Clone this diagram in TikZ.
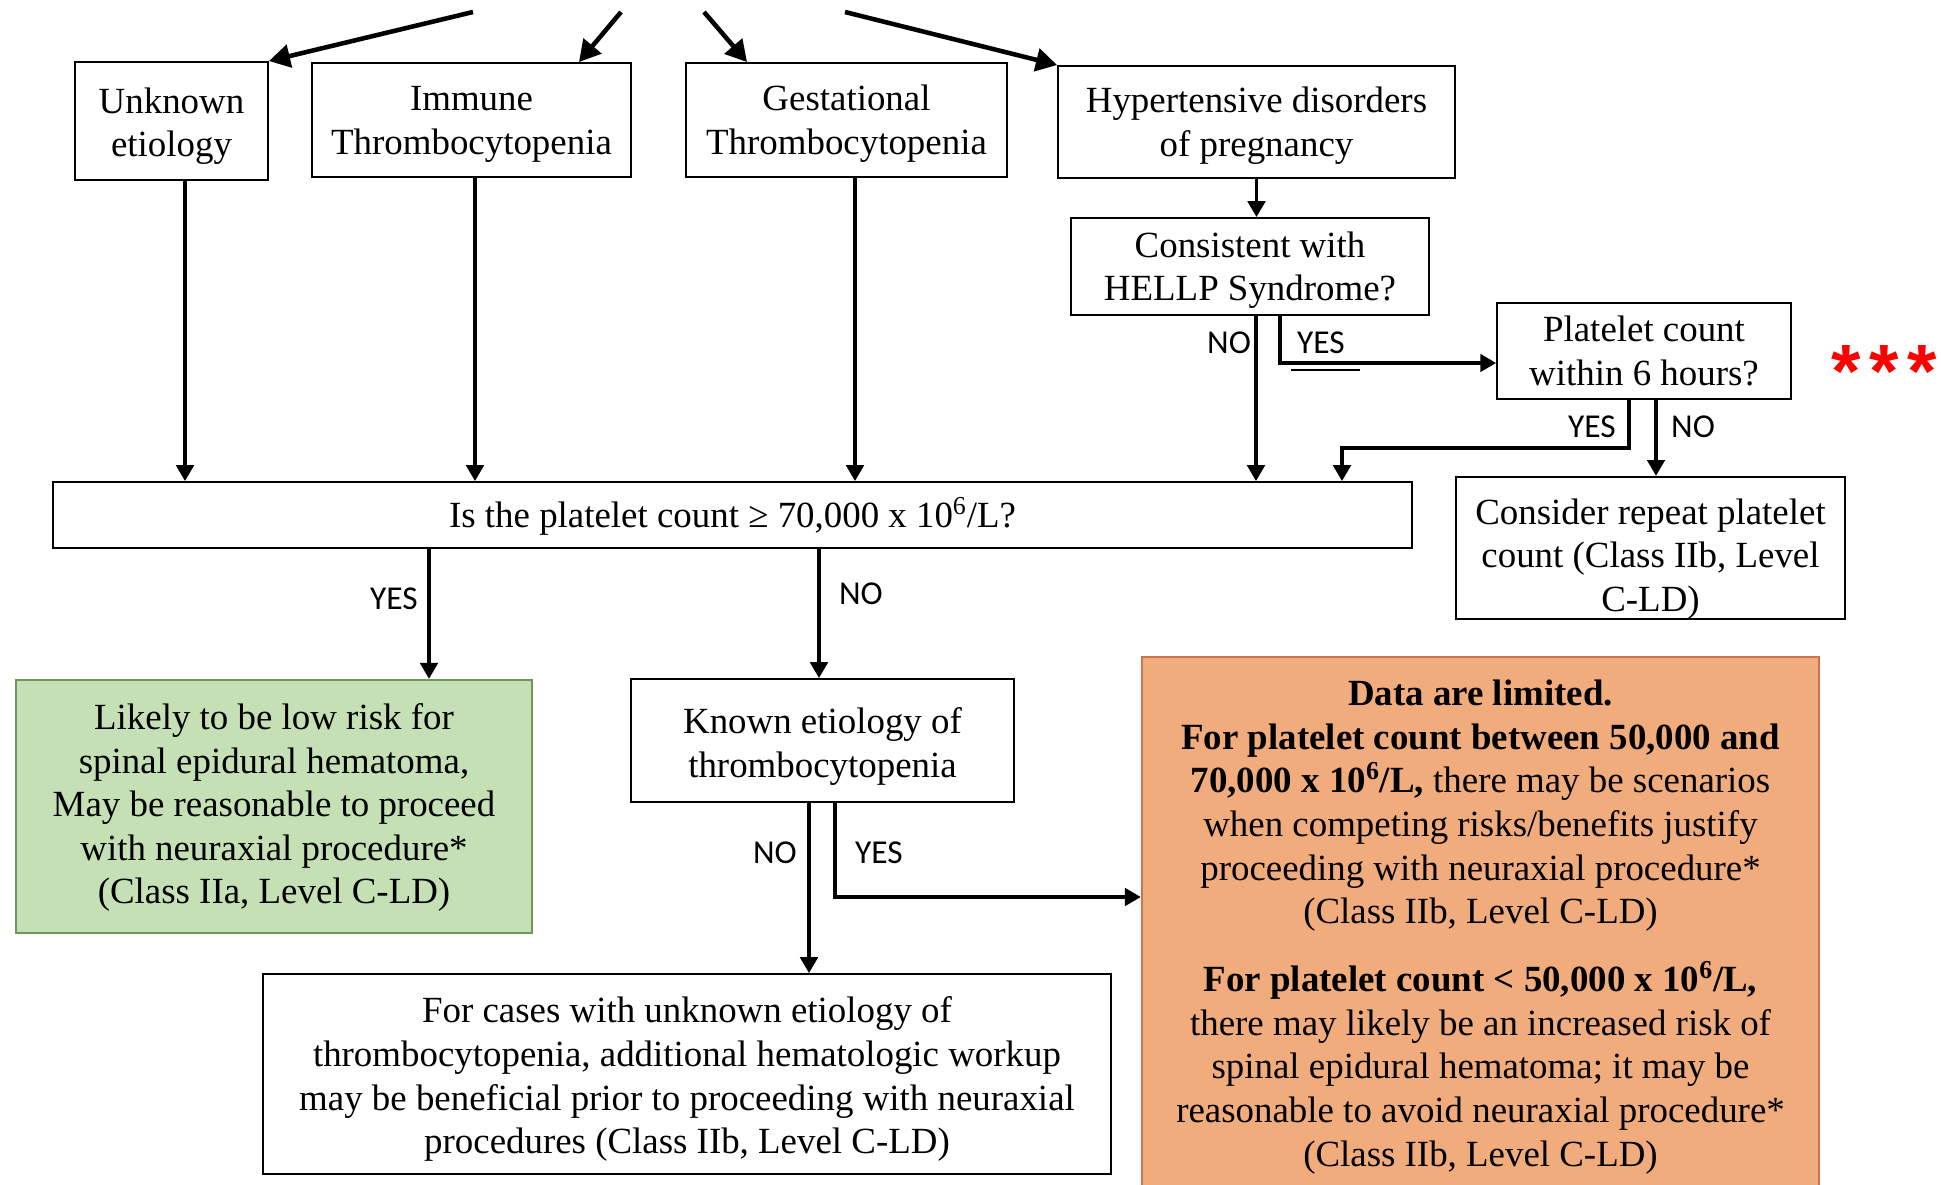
\documentclass[tikz,border=0pt]{standalone}
\usepackage{fontspec}
\setmainfont{Liberation Serif}
\newfontfamily\labelfont{Carlito}
\newfontfamily\starfont{Liberation Sans}
\usetikzlibrary{arrows.meta}
\definecolor{orangefill}{RGB}{240,172,124}
\definecolor{orangeline}{RGB}{205,115,80}
\definecolor{greenfill}{RGB}{197,224,180}
\definecolor{greenline}{RGB}{112,150,90}
\newcommand{\lift}[1]{\rule{0pt}{#1}}

\begin{document}
\begin{tikzpicture}[x=0.02cm, y=-0.02cm,
    box/.style={draw, line width=1.1pt, align=center, inner sep=0pt, font=\fontsize{21}{24.8}\selectfont},
    flow/.style={-{Triangle[width=10pt,length=9pt]}, line width=1.8pt},
    feed/.style={-{Triangle[width=13pt,length=12pt]}, line width=2.6pt},
    lbl/.style={font=\labelfont\fontsize{19}{22}\selectfont, inner sep=0pt}]
    \useasboundingbox (0,0) rectangle (1941,1185);

    % etiology boxes
    \node[box, minimum width=3.86cm, minimum height=2.36cm] (unknown) at (171.5,121) {\lift{20.7pt}Unknown\\etiology};
    \node[box, minimum width=6.38cm, minimum height=2.28cm] (immune) at (471.5,120) {\lift{18.6pt}Immune\\Thrombocytopenia};
    \node[box, minimum width=6.42cm, minimum height=2.28cm] (gestational) at (846.5,120) {\lift{18.6pt}Gestational\\Thrombocytopenia};
    \node[box, minimum width=7.94cm, minimum height=2.24cm] (hypert) at (1256.5,122) {\lift{18.6pt}Hypertensive disorders\\of pregnancy};
    \node[box, minimum width=7.16cm, minimum height=1.94cm] (hellp) at (1250,266.5) {\lift{18.6pt}Consistent with\\HELLP Syndrome?};
    \node[box, minimum width=5.88cm, minimum height=1.92cm] (platelet) at (1644,351) {Platelet count\\within 6 hours?};
    \node[text=red, inner sep=0pt, font=\starfont\bfseries\fontsize{43}{43}\selectfont] (stars) at (1884,372) {*\hspace{5pt}*\hspace{5pt}*};

    % main question
    \node[box, minimum width=27.18cm, minimum height=1.32cm] (isbox) at (732.5,515) {\lift{19pt}Is the platelet count ≥ 70,000 x 10\textsuperscript{6}/L?};
    \node[box, minimum width=7.78cm, minimum height=2.8cm] (repeat) at (1650.5,548) {\lift{27pt}Consider repeat platelet\\count (Class IIb, Level\\C-LD)};

    % outcomes
    \node[box, draw=greenline, fill=greenfill, line width=1.4pt, minimum width=10.32cm, minimum height=5.06cm] (lowrisk) at (274,806.5)
        {\lift{16pt}Likely to be low risk for\\spinal epidural hematoma,\\May be reasonable to proceed\\with neuraxial procedure*\\(Class IIa, Level C-LD)};
    \node[box, minimum width=7.66cm, minimum height=2.46cm] (known) at (822.5,740.5) {\lift{21.3pt}Known etiology of\\thrombocytopenia};
    \node[box, minimum width=16.96cm, minimum height=4cm] (workup) at (687,1074)
        {\lift{20.7pt}For cases with unknown etiology of\\thrombocytopenia, additional hematologic workup\\may be beneficial prior to proceeding with neuraxial\\procedures (Class IIb, Level C-LD)};
    \node[box, draw=orangeline, fill=orangefill, line width=1.5pt, minimum width=13.54cm, minimum height=10.66cm] (limited) at (1480.5,923.5)
        {\lift{18.6pt}\textbf{Data are limited.}\\
         \textbf{For platelet count between 50,000 and}\\
         \textbf{70,000 x 10\textsuperscript{6}/L,} there may be scenarios\\
         when competing risks/benefits justify\\
         proceeding with neuraxial procedure*\\
         (Class IIb, Level C-LD)\\[14pt]
         \textbf{For platelet count < 50,000 x 10\textsuperscript{6}/L,}\\
         there may likely be an increased risk of\\
         spinal epidural hematoma; it may be\\
         reasonable to avoid neuraxial procedure*\\
         (Class IIb, Level C-LD)};

    % incoming arrows from above
    \coordinate (top1) at (473,12);
    \coordinate (top2) at (621,12);
    \coordinate (top3) at (704,12);
    \coordinate (top4) at (845,12);
    \draw[feed] (top1) -- (unknown.north east);
    \draw[feed] (top2) -- (immune.north -| 579,0);
    \draw[feed] (top3) -- (gestational.north -| 747,0);
    \draw[feed] (top4) -- (hypert.north west);

    % down to the question
    \draw[flow] (unknown.south -| 185,0) -- (isbox.north -| 185,0);
    \draw[flow] (immune.south -| 475,0) -- (isbox.north -| 475,0);
    \draw[flow] (gestational.south -| 855,0) -- (isbox.north -| 855,0);
    \draw[flow] (hypert.south) -- (hypert.south |- hellp.north);
    \draw[flow] (hellp.south -| 1256,0) -- (isbox.north -| 1256,0);
    \draw[flow] (hellp.south -| 1280,0) |- (platelet.west |- 0,363);
    \draw[line width=1.3pt] (1291,370) -- (1360,370);
    \draw[flow] (platelet.south -| 1629,0) -- ++(0,48) -| (isbox.north -| 1342,0);
    \draw[flow] (platelet.south -| 1656,0) -- (repeat.north -| 1656,0);
    \node[lbl] (hellpno) at (1229,343) {NO};
    \node[lbl] (hellpyes) at (1321,343) {YES};
    \node[lbl] (platyes) at (1592,427) {YES};
    \node[lbl] (platno) at (1693,427) {NO};

    % below the question
    \draw[flow] (isbox.south -| 429,0) -- (lowrisk.north -| 429,0);
    \draw[flow] (isbox.south -| 819,0) -- (known.north -| 819,0);
    \draw[flow] (known.south -| 809,0) -- (workup.north -| 809,0);
    \draw[flow] (known.south -| 835,0) |- (limited.west |- 0,897);
    \node[lbl] (isyes) at (394,599) {YES};
    \node[lbl] (isno) at (861,594) {NO};
    \node[lbl] (knownno) at (775,853) {NO};
    \node[lbl] (knownyes) at (879,853) {YES};
\end{tikzpicture}
\end{document}
